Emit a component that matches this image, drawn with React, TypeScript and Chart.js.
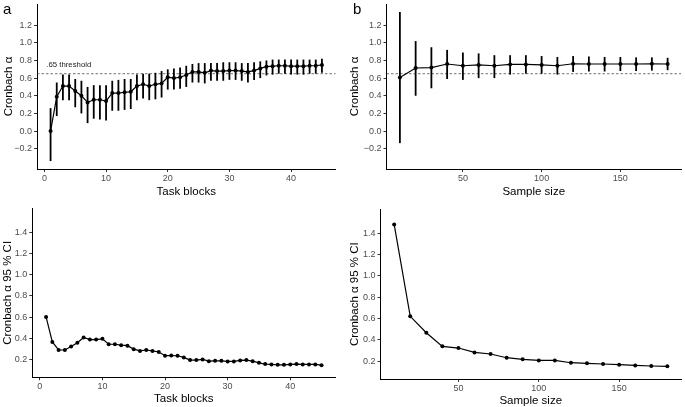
import React, { useEffect, useRef } from 'react';
import { Chart, registerables } from 'chart.js';

Chart.register(...registerables);

// ---------- data ----------
const taskBlocks = [1, 2, 3, 4, 5, 6, 7, 8, 9, 10, 11, 12, 13, 14, 15, 16, 17, 18, 19, 20, 21, 22, 23, 24, 25, 26, 27, 28, 29, 30, 31, 32, 33, 34, 35, 36, 37, 38, 39, 40, 41, 42, 43, 44, 45];
const alphaByBlock = [0.0, 0.39, 0.51, 0.51, 0.455, 0.4, 0.325, 0.355, 0.355, 0.34, 0.43, 0.43, 0.44, 0.445, 0.51, 0.53, 0.51, 0.53, 0.54, 0.61, 0.6, 0.61, 0.635, 0.67, 0.67, 0.66, 0.685, 0.68, 0.68, 0.685, 0.685, 0.68, 0.67, 0.685, 0.71, 0.73, 0.735, 0.74, 0.74, 0.735, 0.735, 0.735, 0.74, 0.74, 0.75];
const alphaByBlockLower = [-0.34, 0.17, 0.35, 0.35, 0.27, 0.2, 0.09, 0.14, 0.13, 0.12, 0.23, 0.23, 0.24, 0.25, 0.35, 0.37, 0.35, 0.36, 0.38, 0.47, 0.47, 0.48, 0.5, 0.55, 0.55, 0.54, 0.57, 0.57, 0.57, 0.58, 0.58, 0.57, 0.55, 0.58, 0.6, 0.63, 0.64, 0.65, 0.65, 0.64, 0.64, 0.64, 0.65, 0.65, 0.66];
const alphaByBlockUpper = [0.26, 0.55, 0.64, 0.64, 0.59, 0.57, 0.5, 0.52, 0.52, 0.52, 0.57, 0.58, 0.59, 0.59, 0.64, 0.65, 0.65, 0.66, 0.68, 0.7, 0.71, 0.72, 0.74, 0.76, 0.77, 0.77, 0.77, 0.77, 0.78, 0.78, 0.78, 0.77, 0.77, 0.78, 0.79, 0.8, 0.81, 0.81, 0.81, 0.81, 0.81, 0.81, 0.81, 0.81, 0.82];
const ciWidthByBlock = [0.603, 0.368, 0.292, 0.292, 0.325, 0.36, 0.41, 0.39, 0.39, 0.397, 0.346, 0.346, 0.337, 0.333, 0.3, 0.283, 0.292, 0.283, 0.273, 0.238, 0.24, 0.238, 0.222, 0.197, 0.197, 0.203, 0.187, 0.19, 0.19, 0.184, 0.184, 0.194, 0.197, 0.187, 0.171, 0.159, 0.156, 0.152, 0.152, 0.156, 0.159, 0.156, 0.156, 0.156, 0.149];

const sampleSizes = [10, 20, 30, 40, 50, 60, 70, 80, 90, 100, 110, 120, 130, 140, 150, 160, 170, 180];
const alphaBySample = [0.607, 0.715, 0.72, 0.76, 0.74, 0.75, 0.74, 0.755, 0.755, 0.75, 0.74, 0.763, 0.76, 0.76, 0.76, 0.76, 0.763, 0.76];
const alphaBySampleLower = [-0.137, 0.4, 0.485, 0.59, 0.58, 0.6, 0.6, 0.64, 0.65, 0.65, 0.64, 0.67, 0.675, 0.675, 0.68, 0.68, 0.685, 0.69];
const alphaBySampleUpper = [1.35, 1.02, 0.95, 0.92, 0.89, 0.88, 0.86, 0.86, 0.86, 0.85, 0.84, 0.85, 0.845, 0.84, 0.84, 0.835, 0.835, 0.83];
const ciWidthBySample = [1.484, 0.62, 0.466, 0.338, 0.322, 0.281, 0.266, 0.231, 0.216, 0.206, 0.206, 0.184, 0.178, 0.172, 0.166, 0.159, 0.153, 0.15];

const blockTicks = [0, 10, 20, 30, 40];
const sampleTicks = [50, 100, 150];
const alphaTicks = [-0.2, 0, 0.2, 0.4, 0.6, 0.8, 1.0, 1.2];
const ciTicks = [0.2, 0.4, 0.6, 0.8, 1.0, 1.2, 1.4];
const THRESHOLD = 0.65;
const THRESHOLD_LABEL = '.65 threshold';

const FONT = "'Liberation Sans', Arial, Helvetica, sans-serif";

type Area = { left: number; right: number; top: number; bottom: number };
type Spec = {
  left: number; top: number; width: number; height: number;
  area: Area;
  xs: number[]; ys: number[]; lower?: number[]; upper?: number[];
  xMin: number; xMax: number; xTicks: number[];
  yMin: number; yMax: number; yTicks: number[];
  xTitle: string; yTitle: string; yTitleX: number; xTitleY: number;
  label?: string; labelX?: number;
  threshold?: boolean; thresholdText?: boolean;
};

const fmtY = (v: number) => (v < 0 ? '\u2212' : '') + Math.abs(v).toFixed(1);

function makeConfig(s: Spec): any {
  const decor = {
    id: 'decor',
    beforeDatasetsDraw(chart: any) {
      const ctx = chart.ctx;
      const xS = chart.scales.x;
      const yS = chart.scales.y;
      const ca = chart.chartArea;
      ctx.save();
      if (s.threshold) {
        const y = yS.getPixelForValue(THRESHOLD);
        ctx.strokeStyle = '#333';
        ctx.lineWidth = 0.7;
        ctx.setLineDash([2.5, 2]);
        ctx.beginPath();
        ctx.moveTo(ca.left, y);
        ctx.lineTo(ca.right, y);
        ctx.stroke();
        ctx.setLineDash([]);
      }
      if (s.lower && s.upper) {
        ctx.strokeStyle = '#000';
        ctx.lineWidth = 1.8;
        ctx.lineCap = 'butt';
        for (let i = 0; i < s.xs.length; i++) {
          const x = xS.getPixelForValue(s.xs[i]);
          ctx.beginPath();
          ctx.moveTo(x, yS.getPixelForValue(s.lower[i]));
          ctx.lineTo(x, yS.getPixelForValue(s.upper[i]));
          ctx.stroke();
        }
      }
      ctx.restore();
    },
    afterDraw(chart: any) {
      const ctx = chart.ctx;
      const xS = chart.scales.x;
      const yS = chart.scales.y;
      const ca = chart.chartArea;
      ctx.save();
      ctx.fillStyle = '#000';
      // x title
      ctx.font = `11.5px ${FONT}`;
      ctx.textAlign = 'center';
      ctx.textBaseline = 'middle';
      ctx.fillText(s.xTitle, (ca.left + ca.right) / 2, s.xTitleY);
      // y title
      ctx.save();
      ctx.translate(s.yTitleX, (ca.top + ca.bottom) / 2);
      ctx.rotate(-Math.PI / 2);
      ctx.fillText(s.yTitle, 0, 0);
      ctx.restore();
      if (s.label) {
        ctx.font = `15px ${FONT}`;
        ctx.textAlign = 'left';
        ctx.textBaseline = 'alphabetic';
        ctx.fillText(s.label, s.labelX ?? 3, 13.5);
      }
      if (s.thresholdText) {
        ctx.font = `7.8px ${FONT}`;
        ctx.textAlign = 'left';
        ctx.textBaseline = 'middle';
        ctx.fillStyle = '#222';
        ctx.fillText(THRESHOLD_LABEL, xS.getPixelForValue(0.3), yS.getPixelForValue(0.75));
      }
      ctx.restore();
    },
  };

  const tickFont = { family: FONT, size: 9 };
  return {
    type: 'line',
    data: {
      datasets: [
        {
          data: s.xs.map((x, i) => ({ x, y: s.ys[i] })),
          borderColor: '#000',
          borderWidth: 1.2,
          pointRadius: 2,
          pointBackgroundColor: '#000',
          pointBorderWidth: 0,
          tension: 0,
          fill: false,
        },
      ],
    },
    options: {
      responsive: false,
      animation: false,
      events: [],
      layout: { padding: { left: 0, top: s.area.top, right: s.width - s.area.right, bottom: 0 } },
      plugins: { legend: { display: false }, tooltip: { enabled: false } },
      scales: {
        x: {
          type: 'linear',
          min: s.xMin,
          max: s.xMax,
          afterBuildTicks: (sc: any) => { sc.ticks = s.xTicks.map((v) => ({ value: v })); },
          afterFit: (sc: any) => {
            sc.height = s.height - s.area.bottom;
            sc.paddingLeft = 0; sc.paddingRight = 0; sc.paddingTop = 0; sc.paddingBottom = 0;
          },
          grid: { display: true, drawOnChartArea: false, drawTicks: true, tickLength: 3, color: '#333', lineWidth: 1 },
          border: { display: true, color: '#000', width: 1 },
          ticks: { font: tickFont, color: '#4d4d4d', padding: 1, autoSkip: false, maxRotation: 0, callback: (v: any) => String(v) },
        },
        y: {
          type: 'linear',
          min: s.yMin,
          max: s.yMax,
          afterBuildTicks: (sc: any) => { sc.ticks = s.yTicks.map((v) => ({ value: v })); },
          afterFit: (sc: any) => {
            sc.width = s.area.left;
            sc.paddingLeft = 0; sc.paddingRight = 0; sc.paddingTop = 0; sc.paddingBottom = 0;
          },
          grid: { display: true, drawOnChartArea: false, drawTicks: true, tickLength: 3, color: '#333', lineWidth: 1 },
          border: { display: true, color: '#000', width: 1 },
          ticks: { font: tickFont, color: '#4d4d4d', padding: 2, autoSkip: false, callback: (v: any) => fmtY(Number(v)) },
        },
      },
    },
    plugins: [decor],
  };
}

const panels: Spec[] = [
  {
    left: 0, top: 0, width: 342, height: 200,
    area: { left: 37, right: 335.5, top: 0, bottom: 169 },
    xs: taskBlocks, ys: alphaByBlock, lower: alphaByBlockLower, upper: alphaByBlockUpper,
    xMin: -1.2, xMax: 47.2, xTicks: blockTicks,
    yMin: -0.43, yMax: 1.44, yTicks: alphaTicks,
    xTitle: 'Task blocks', yTitle: 'Cronbach \u03B1', yTitleX: 9, xTitleY: 191.7,
    label: 'a', labelX: 3, threshold: true, thresholdText: true,
  },
  {
    left: 342, top: 0, width: 343, height: 200,
    area: { left: 44.5, right: 340.7, top: 0, bottom: 169 },
    xs: sampleSizes, ys: alphaBySample, lower: alphaBySampleLower, upper: alphaBySampleUpper,
    xMin: 1.5, xMax: 188.5, xTicks: sampleTicks,
    yMin: -0.43, yMax: 1.44, yTicks: alphaTicks,
    xTitle: 'Sample size', yTitle: 'Cronbach \u03B1', yTitleX: 13, xTitleY: 191.7,
    label: 'b', labelX: 11, threshold: true,
  },
  {
    left: 0, top: 200, width: 342, height: 207,
    area: { left: 32.3, right: 335.3, top: 8.3, bottom: 177.3 },
    xs: taskBlocks, ys: ciWidthByBlock,
    xMin: -1.2, xMax: 47.2, xTicks: blockTicks,
    yMin: 0.035, yMax: 1.625, yTicks: ciTicks,
    xTitle: 'Task blocks', yTitle: 'Cronbach \u03B1 95 % CI', yTitleX: 8, xTitleY: 199.3,
  },
  {
    left: 342, top: 200, width: 343, height: 207,
    area: { left: 38.5, right: 341.5, top: 9.3, bottom: 179 },
    xs: sampleSizes, ys: ciWidthBySample,
    xMin: 1.5, xMax: 188.5, xTicks: sampleTicks,
    yMin: 0.031, yMax: 1.626, yTicks: ciTicks,
    xTitle: 'Sample size', yTitle: 'Cronbach \u03B1 95 % CI', yTitleX: 13, xTitleY: 201,
  },
];

function Panel({ spec }: { spec: Spec }) {
  const ref = useRef<HTMLCanvasElement | null>(null);
  useEffect(() => {
    if (!ref.current) return;
    const chart = new Chart(ref.current, makeConfig(spec));
    return () => chart.destroy();
  }, [spec]);
  return (
    <canvas
      ref={ref}
      width={spec.width}
      height={spec.height}
      style={{ position: 'absolute', left: spec.left, top: spec.top, width: spec.width, height: spec.height, display: 'block' }}
    />
  );
}

export default function App() {
  return (
    <div style={{ position: 'fixed', left: 0, top: 0, width: 685, height: 407, background: '#fff', overflow: 'hidden' }}>
      {panels.map((p, i) => (
        <Panel key={i} spec={p} />
      ))}
    </div>
  );
}
